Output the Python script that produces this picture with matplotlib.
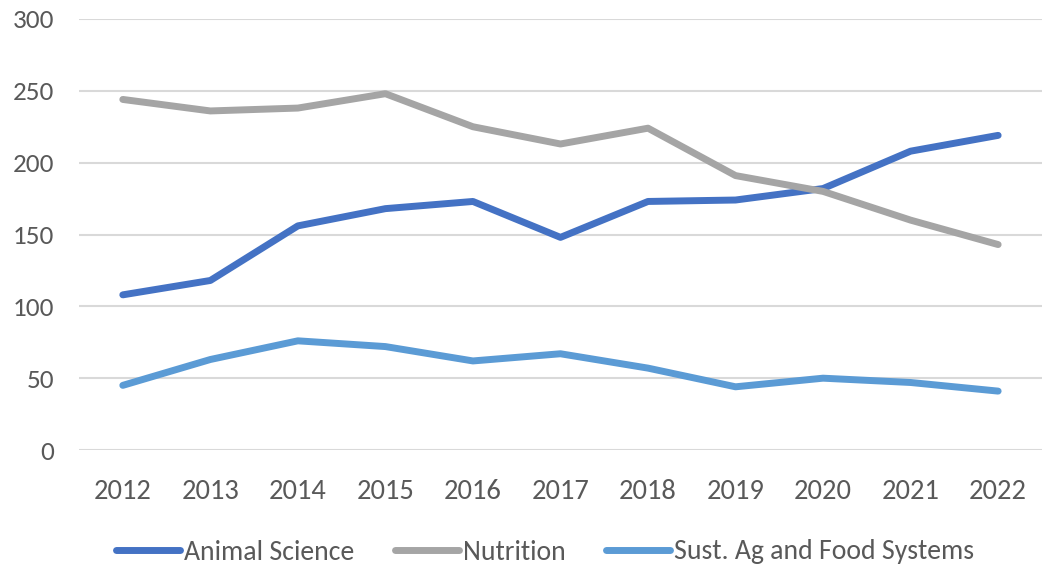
import matplotlib
matplotlib.use("Agg")
import matplotlib.pyplot as plt
import numpy as np

plt.rcParams["font.family"] = ["Carlito", "Liberation Sans Narrow", "DejaVu Sans"]

years = ["2012", "2013", "2014", "2015", "2016", "2017", "2018", "2019", "2020", "2021", "2022"]
animal_science = [108, 118, 156, 168, 173, 148, 173, 174, 182, 208, 219]
nutrition = [244, 236, 238, 248, 225, 213, 224, 191, 180, 160, 143]
sust_ag = [45, 63, 76, 72, 62, 67, 57, 44, 50, 47, 41]

series = [
    ("Animal Science", animal_science, "#4472C4"),
    ("Nutrition", nutrition, "#A5A5A5"),
    ("Sust. Ag and Food Systems", sust_ag, "#5B9BD5"),
]

text_color = "#595959"

fig = plt.figure(figsize=(10.44, 5.65), dpi=100)
ax = fig.add_axes([0.0757, 0.2035, 0.9223, 0.7629])

x = np.arange(len(years))
for name, vals, color in series:
    ax.plot(x, vals, color=color, linewidth=5, solid_capstyle="round",
            solid_joinstyle="round", label=name, zorder=3)

ax.set_xlim(-0.5, len(years) - 0.5)
ax.set_ylim(0, 300)
ax.set_yticks(range(0, 301, 50))
ax.set_xticks(x)
ax.set_xticklabels(years)

ax.grid(axis="y", color="#D9D9D9", linewidth=1.5, zorder=0)
for s in ax.spines.values():
    s.set_visible(False)
ax.tick_params(axis="both", length=0, colors=text_color)
ax.tick_params(axis="y", pad=18, labelsize=19.5)
ax.tick_params(axis="x", pad=21, labelsize=20.5)

fig.legend(loc="center", bbox_to_anchor=(0.522, 1 - 552 / 565), ncol=3,
           frameon=False, fontsize=20, handlelength=2.3, handletextpad=0.15,
           columnspacing=1.45, labelcolor=text_color)

fig.savefig("out.png", dpi=100)
